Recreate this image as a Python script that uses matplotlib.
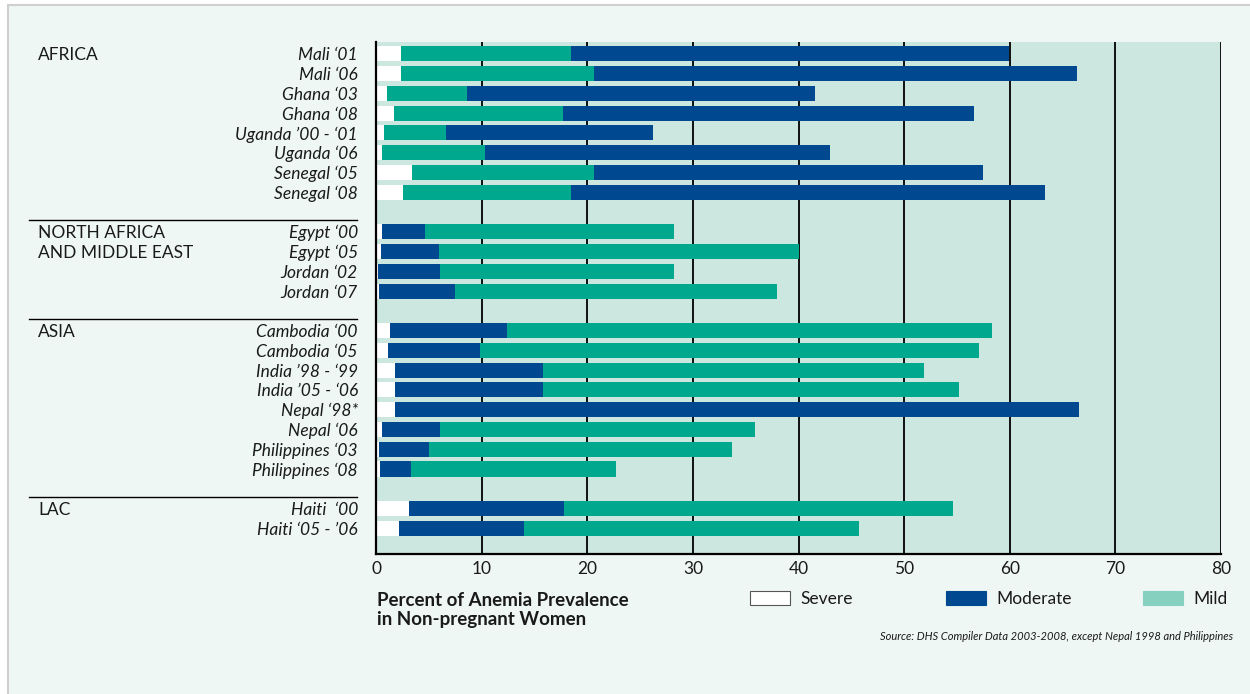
import matplotlib
matplotlib.use("Agg")
import matplotlib.pyplot as plt
from matplotlib.patches import Rectangle
from matplotlib.lines import Line2D
from matplotlib.transforms import blended_transform_factory

# ---------------- data ----------------
regions = ["AFRICA", "NORTH AFRICA\nAND MIDDLE EAST", "ASIA", "LAC"]
region_sizes = [8, 4, 8, 2]
# Africa stacks Severe -> Mild -> Moderate, the others Severe -> Moderate -> Mild
region_mild_first = [True, False, False, False]

countries = [
    "Mali \u201801", "Mali \u201806", "Ghana \u201803", "Ghana \u201808",
    "Uganda \u201900 - \u201801", "Uganda \u201806", "Senegal \u201805", "Senegal \u201808",
    "Egypt \u201800", "Egypt \u201805", "Jordan \u201802", "Jordan \u201807",
    "Cambodia \u201800", "Cambodia \u201805", "India \u201998 - \u201899", "India \u201905 - \u201806",
    "Nepal \u201898*", "Nepal \u201806", "Philippines \u201803", "Philippines \u201808",
    "Haiti  \u201800", "Haiti \u201805 - \u201906",
]
severe = [2.4, 2.4, 1.0, 1.7, 0.75, 0.6, 3.4, 2.6,
          0.6, 0.5, 0.2, 0.3,
          1.3, 1.1, 1.8, 1.8, 1.8, 0.6, 0.3, 0.4,
          3.1, 2.2]
moderate = [41.4, 45.8, 33.0, 38.9, 19.6, 32.7, 36.9, 44.8,
            4.0, 5.5, 5.9, 7.2,
            11.1, 8.7, 14.0, 14.0, 64.8, 5.5, 4.7, 2.9,
            14.7, 11.8]
mild = [16.1, 18.2, 7.6, 16.0, 5.85, 9.7, 17.2, 15.9,
        23.6, 34.0, 22.1, 30.5,
        45.9, 47.3, 36.1, 39.4, 0.0, 29.8, 28.7, 19.4,
        36.8, 31.7]

xticks = [0, 10, 20, 30, 40, 50, 60, 70, 80]
legend_labels = ["Severe", "Moderate", "Mild"]
x_title = "Percent of Anemia Prevalence\nin Non-pregnant Women"
source = "Source: DHS Compiler Data 2003-2008, except Nepal 1998 and Philippines"

# ---------------- style ----------------
C_SEV = "#ffffff"
C_MOD = "#004990"
C_MILD = "#00a88e"
C_MILD_LEG = "#86d0c0"
C_PLOT = "#cce7df"
C_FIG = "#eef7f4"
FONT = "Lato"

W, H = 1250, 694
fig = plt.figure(figsize=(W / 100, H / 100), dpi=100, facecolor="white")

def fx(px):
    return px / W

def fy(py):
    return 1 - py / H

# outer frame
fig.patches.append(Rectangle((fx(8), fy(H + 10)), 1.2, fy(5) - fy(H + 10),
                             transform=fig.transFigure, facecolor=C_FIG,
                             edgecolor="#cfcfcf", lw=1.5, zorder=-10))

ax = fig.add_axes([fx(376), fy(554), fx(1221) - fx(376), fy(42) - fy(554)])
ax.set_facecolor(C_PLOT)
ax.set_zorder(2)

# row positions with one empty row between regions
ypos = []
region_first_row = []
row_mild_first = []
r = 0
for size, mf in zip(region_sizes, region_mild_first):
    region_first_row.append(r)
    for _ in range(size):
        ypos.append(r)
        row_mild_first.append(mf)
        r += 1
    r += 1

bh = 0.76
for i, y in enumerate(ypos):
    if row_mild_first[i]:
        order = [(severe[i], C_SEV), (mild[i], C_MILD), (moderate[i], C_MOD)]
    else:
        order = [(severe[i], C_SEV), (moderate[i], C_MOD), (mild[i], C_MILD)]
    left = 0
    for val, col in order:
        if val > 0:
            ax.barh(y, val, left=left, height=bh, color=col, lw=0, zorder=3)
        left += val

ax.set_xlim(0, 80)
ax.set_ylim(ypos[-1] + 1.3, -0.6)
for xt in xticks[1:]:
    ax.axvline(xt, color="black", lw=1.3, zorder=2)

ax.set_xticks(xticks)
ax.set_xticklabels([str(t) for t in xticks], fontsize=12.5, family=FONT, color="#1a1a1a")
ax.tick_params(axis="x", length=0, pad=5)
ax.set_yticks(ypos)
ax.set_yticklabels(countries, fontsize=12.5, family=FONT, style="italic", color="#1a1a1a")
ax.tick_params(axis="y", length=0, pad=13)
for s in ["top", "right"]:
    ax.spines[s].set_visible(False)
for s in ["left", "bottom"]:
    ax.spines[s].set_linewidth(1.6)
    ax.spines[s].set_color("black")
    ax.spines[s].set_zorder(4)

# region labels and separators
tr = blended_transform_factory(fig.transFigure, ax.transData)
for k, (name, r0) in enumerate(zip(regions, region_first_row)):
    for j, line in enumerate(name.split("\n")):
        fig.text(fx(38), r0 + j + 0.08, line, transform=tr, ha="left", va="center",
                 fontsize=12.5, family=FONT, color="#1a1a1a")
    if k > 0:
        fig.add_artist(Line2D([fx(29), fx(357)], [r0 - 0.6, r0 - 0.6], transform=tr,
                              color="black", lw=1.0))

# axis title
fig.text(fx(377), fy(610), x_title, ha="left", va="center", fontsize=13.5,
         family=FONT, weight="bold", color="#1a1a1a", linespacing=1.15)

# legend
leg_x = [750, 946, 1143]
leg_cols = [C_SEV, C_MOD, C_MILD_LEG]
leg_edges = ["#555555", C_MOD, C_MILD_LEG]
for lx, lab, col, ec in zip(leg_x, legend_labels, leg_cols, leg_edges):
    fig.patches.append(Rectangle((fx(lx), fy(605)), fx(40), fy(591) - fy(605),
                                 transform=fig.transFigure, facecolor=col,
                                 edgecolor=ec, lw=0.8))
    fig.text(fx(lx + 50), fy(599), lab, ha="left", va="center", fontsize=12.5,
             family=FONT, color="#1a1a1a")

fig.text(fx(1233), fy(636), source, ha="right", va="center", fontsize=8,
         family=FONT, style="italic", color="#1a1a1a")

fig.savefig("out.png", dpi=100, facecolor="white")
